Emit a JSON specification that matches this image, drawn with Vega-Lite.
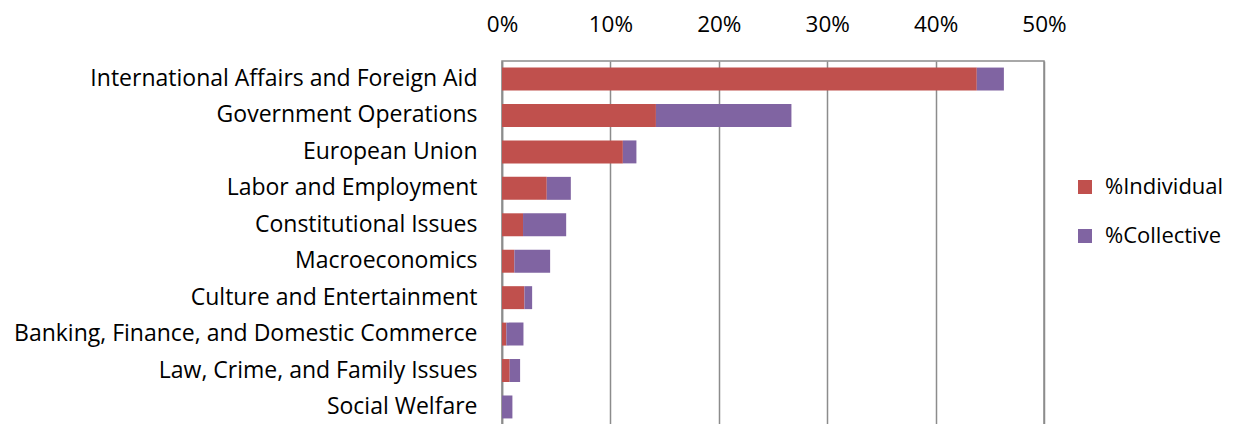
{
  "$schema": "https://vega.github.io/schema/vega-lite/v6.json",
  "autosize": "none",
  "width": 542,
  "height": 364,
  "padding": {"left": 502, "top": 61, "right": 189, "bottom": 0},
  "config": {
    "font": "Open Sans",
    "view": {"stroke": "#8c8c8c", "strokeWidth": 1.5},
    "axis": {"labelFont": "Open Sans", "labelColor": "#000000"},
    "legend": {"labelFont": "Open Sans", "labelColor": "#000000"}
  },
  "data": {
    "values": [
      {"topic": "International Affairs and Foreign Aid", "type": "%Individual", "ord": 1, "value": 0.438},
      {"topic": "International Affairs and Foreign Aid", "type": "%Collective", "ord": 2, "value": 0.025},
      {"topic": "Government Operations", "type": "%Individual", "ord": 1, "value": 0.142},
      {"topic": "Government Operations", "type": "%Collective", "ord": 2, "value": 0.125},
      {"topic": "European Union", "type": "%Individual", "ord": 1, "value": 0.1115},
      {"topic": "European Union", "type": "%Collective", "ord": 2, "value": 0.0125},
      {"topic": "Labor and Employment", "type": "%Individual", "ord": 1, "value": 0.0413},
      {"topic": "Labor and Employment", "type": "%Collective", "ord": 2, "value": 0.0222},
      {"topic": "Constitutional Issues", "type": "%Individual", "ord": 1, "value": 0.0194},
      {"topic": "Constitutional Issues", "type": "%Collective", "ord": 2, "value": 0.0398},
      {"topic": "Macroeconomics", "type": "%Individual", "ord": 1, "value": 0.0114},
      {"topic": "Macroeconomics", "type": "%Collective", "ord": 2, "value": 0.033},
      {"topic": "Culture and Entertainment", "type": "%Individual", "ord": 1, "value": 0.0207},
      {"topic": "Culture and Entertainment", "type": "%Collective", "ord": 2, "value": 0.0071},
      {"topic": "Banking, Finance, and Domestic Commerce", "type": "%Individual", "ord": 1, "value": 0.004},
      {"topic": "Banking, Finance, and Domestic Commerce", "type": "%Collective", "ord": 2, "value": 0.0158},
      {"topic": "Law, Crime, and Family Issues", "type": "%Individual", "ord": 1, "value": 0.0071},
      {"topic": "Law, Crime, and Family Issues", "type": "%Collective", "ord": 2, "value": 0.0096},
      {"topic": "Social Welfare", "type": "%Individual", "ord": 1, "value": 0.0},
      {"topic": "Social Welfare", "type": "%Collective", "ord": 2, "value": 0.0096}
    ]
  },
  "mark": {"type": "bar"},
  "encoding": {
    "y": {
      "field": "topic",
      "type": "nominal",
      "sort": null,
      "scale": {"paddingInner": 0.37, "paddingOuter": 0.18},
      "axis": {
        "title": null,
        "ticks": false,
        "domainColor": "#8c8c8c",
        "domainWidth": 1.5,
        "labelFontSize": 23,
        "labelPadding": 25,
        "labelLimit": 600
      }
    },
    "x": {
      "field": "value",
      "type": "quantitative",
      "stack": "zero",
      "scale": {"domain": [0, 0.5], "nice": false},
      "axis": {
        "orient": "top",
        "title": null,
        "format": ".0%",
        "values": [0, 0.1, 0.2, 0.3, 0.4, 0.5],
        "ticks": false,
        "domain": false,
        "grid": true,
        "gridColor": "#8c8c8c",
        "gridWidth": 1.5,
        "labelFlush": false,
        "labelFontSize": 22.5,
        "labelPadding": 25
      }
    },
    "color": {
      "field": "type",
      "type": "nominal",
      "scale": {"domain": ["%Individual", "%Collective"], "range": ["#C0504D", "#8064A2"]},
      "legend": {
        "title": null,
        "orient": "none",
        "legendX": 572,
        "legendY": 115,
        "symbolType": "square",
        "symbolSize": 196,
        "symbolStrokeWidth": 0,
        "labelFontSize": 22,
        "labelOffset": 9,
        "rowPadding": 27
      }
    },
    "order": {"field": "ord", "type": "quantitative"}
  }
}
